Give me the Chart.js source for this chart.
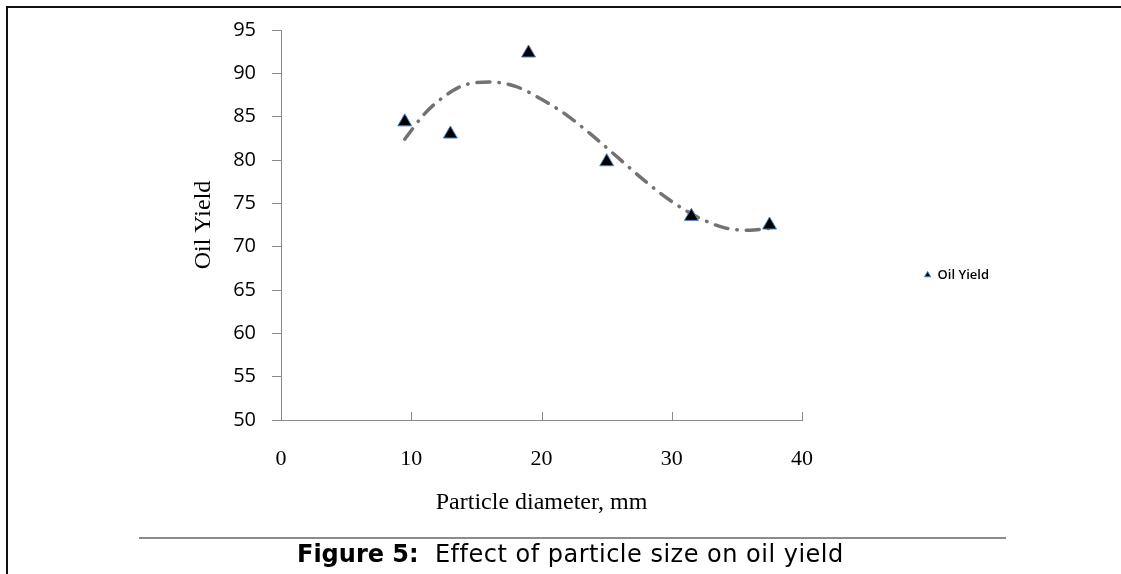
<!DOCTYPE html>
<html>
<head>
<meta charset="utf-8">
<script src="https://cdn.jsdelivr.net/npm/chart.js@4.4.1/dist/chart.umd.min.js"></script>
<style>
  html, body { margin: 0; padding: 0; background: #fff; }
  body { width: 1121px; height: 574px; position: relative; overflow: hidden; }
  #frame { position: absolute; left: 6px; top: 6px; width: 1200px; height: 700px;
           border-left: 2px solid #111; border-top: 2px solid #111; }
  #chart { position: absolute; left: 0; top: 0; }
  #rule { position: absolute; left: 139px; top: 537px; width: 867px; height: 0;
          border-top: 2px solid #8c8c8c; }
  #caption { position: absolute; left: 297px; top: 540px; line-height: 28px;
             font-family: "DejaVu Sans", sans-serif; font-size: 24px; color: #000; white-space: nowrap; }
  #caption span { letter-spacing: 0.5px; }
</style>
</head>
<body>
<div id="frame"></div>
<canvas id="chart" width="1121" height="574"></canvas>
<div id="rule"></div>
<div id="caption"><b>Figure 5:</b><span>&nbsp; Effect of particle size on oil yield</span></div>
<script>
// measured points
const diameters = [9.5, 13, 19, 25, 31.5, 37.5];
const oilYield = [84.4, 83.0, 92.35, 79.8, 73.5, 72.5];

// trend line
const trendX = [9.5, 11, 12.5, 14, 16, 18, 20, 22, 24, 26, 28, 30, 32, 34, 36, 37.5];
const trendY = [82.4, 85.3, 87.3, 88.6, 89.0, 88.5, 87.0, 85.1, 82.7, 80.1, 77.5, 75.2, 73.4, 72.2, 71.9, 72.1];

const xTicks = [0, 10, 20, 30, 40];
const yTicks = [50, 55, 60, 65, 70, 75, 80, 85, 90, 95];

const axisGrey = '#8a8a8a';

// excel draws the x ticks pointing into the plot
const innerTicks = {
  id: 'innerTicks',
  afterDraw(chart) {
    const x = chart.scales.x, ctx = chart.ctx, yb = chart.chartArea.bottom;
    ctx.save();
    ctx.strokeStyle = axisGrey;
    ctx.lineWidth = 1;
    x.ticks.forEach(t => {
      const px = Math.round(x.getPixelForValue(t.value)) + 0.5;
      ctx.beginPath();
      ctx.moveTo(px, yb);
      ctx.lineTo(px, yb - 8);
      ctx.stroke();
    });
    ctx.restore();
  }
};

Chart.defaults.color = '#000';

const ctx = document.getElementById('chart').getContext('2d');
new Chart(ctx, {
  type: 'scatter',
  data: {
    datasets: [
      {
        label: 'Oil Yield',
        data: diameters.map((d, i) => ({x: d, y: oilYield[i]})),
        pointStyle: 'triangle',
        pointRadius: 8,
        pointHoverRadius: 8,
        backgroundColor: '#000',
        borderColor: '#4a7ebb',
        borderWidth: 1,
        order: 0
      },
      {
        label: 'trend',
        type: 'line',
        data: trendX.map((d, i) => ({x: d, y: trendY[i]})),
        showLine: true,
        pointRadius: 0,
        borderColor: '#727272',
        borderWidth: 3.5,
        borderCapStyle: 'round',
        borderDash: [13, 9, 0.5, 9],
        tension: 0.4,
        cubicInterpolationMode: 'monotone',
        fill: false,
        order: 1
      }
    ]
  },
  options: {
    responsive: false,
    animation: false,
    layout: { padding: { left: 185, top: 30, right: 122, bottom: 54 } },
    plugins: {
      tooltip: { enabled: false },
      legend: {
        position: 'right',
        labels: {
          filter: item => item.datasetIndex === 0,
          usePointStyle: true,
          boxWidth: 7,
          boxHeight: 5,
          padding: 122,
          color: '#000',
          font: { family: '"Open Sans", sans-serif', size: 13, weight: '600' }
        }
      }
    },
    scales: {
      x: {
        type: 'linear',
        min: 0,
        max: 40,
        afterBuildTicks: s => { s.ticks = xTicks.map(v => ({value: v})); },
        afterFit: s => { s.height = 100; },
        grid: { display: false, drawTicks: false },
        border: { display: true, color: axisGrey, width: 1 },
        ticks: {
          padding: 26,
          font: { family: '"Liberation Serif", serif', size: 22 }
        },
        title: {
          display: true,
          text: 'Particle diameter, mm',
          padding: { top: 0, bottom: 3 },
          font: { family: '"Liberation Serif", serif', size: 24 }
        }
      },
      y: {
        min: 50,
        max: 95,
        afterBuildTicks: s => { s.ticks = yTicks.map(v => ({value: v})); },
        afterFit: s => { s.width = 96; },
        grid: { drawOnChartArea: false, tickLength: 9, color: axisGrey },
        border: { display: true, color: axisGrey, width: 1 },
        ticks: {
          padding: 16,
          font: { family: '"Open Sans", sans-serif', size: 20 }
        },
        title: {
          display: true,
          text: 'Oil Yield',
          padding: { top: 4, bottom: 0 },
          font: { family: '"Liberation Serif", serif', size: 24 }
        }
      }
    }
  },
  plugins: [innerTicks]
});
</script>
</body>
</html>
